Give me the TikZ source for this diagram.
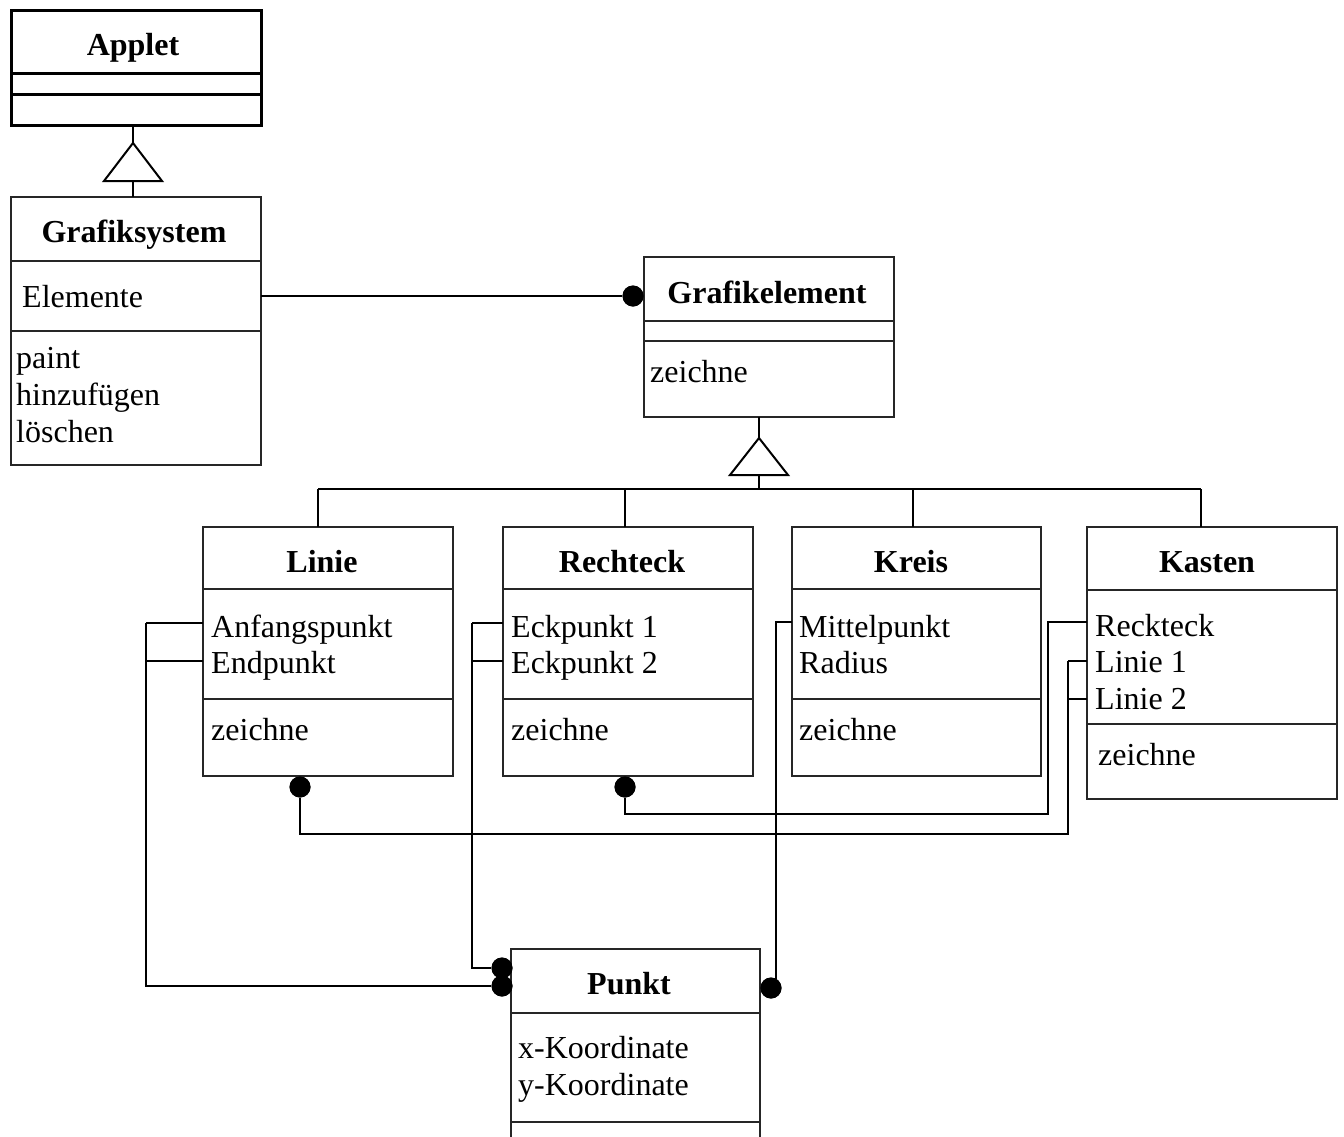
\documentclass[tikz,border=0pt]{standalone}
\usepackage{fontspec}
\setmainfont{Liberation Serif}
\begin{document}
\begin{tikzpicture}[x=1pt,y=-1pt,
  box/.style={draw=black!85, line width=1.3pt, anchor=north west, inner sep=0pt, outer sep=0pt},
  div/.style={draw=black!85, line width=1.3pt},
  txt/.style={font=\fontsize{32}{37}\selectfont, inner sep=0pt, anchor=base west},
  ttl/.style={font=\fontsize{32}{37}\selectfont\bfseries, inner sep=0pt, anchor=base},
  conn/.style={line width=2pt, black},
  dotn/.style={circle, fill=black, inner sep=0pt, minimum size=21pt},
  tri/.style={line width=2pt, fill=white, line join=miter}]
\useasboundingbox (0,0) rectangle (1344,1136);

% ---------- boxes ----------
\node[box, draw=black, line width=3pt, minimum width=250pt, minimum height=115pt] (applet) at (11,10) {};
\node[box, minimum width=250pt, minimum height=268pt] (grafiksystem) at (11,197) {};
\node[box, minimum width=250pt, minimum height=160pt] (grafikelement) at (644,257) {};
\node[box, minimum width=250pt, minimum height=249pt] (linie) at (203,527) {};
\node[box, minimum width=250pt, minimum height=249pt] (rechteck) at (503,527) {};
\node[box, minimum width=249pt, minimum height=249pt] (kreis) at (792,527) {};
\node[box, minimum width=250pt, minimum height=272pt] (kasten) at (1087,527) {};
\node[box, minimum width=249pt, minimum height=220pt] (punkt) at (511,949) {};

% ---------- dividers ----------
\draw[black, line width=3pt] (applet.west |- 0,73) -- (applet.east |- 0,73);
\draw[black, line width=3pt] (applet.west |- 0,94) -- (applet.east |- 0,94);
\draw[div] (grafiksystem.west |- 0,261) -- (grafiksystem.east |- 0,261);
\draw[div] (grafiksystem.west |- 0,331) -- (grafiksystem.east |- 0,331);
\draw[div] (grafikelement.west |- 0,321) -- (grafikelement.east |- 0,321);
\draw[div] (grafikelement.west |- 0,341) -- (grafikelement.east |- 0,341);
\draw[div] (linie.west |- 0,589) -- (linie.east |- 0,589);
\draw[div] (linie.west |- 0,699) -- (linie.east |- 0,699);
\draw[div] (rechteck.west |- 0,589) -- (rechteck.east |- 0,589);
\draw[div] (rechteck.west |- 0,699) -- (rechteck.east |- 0,699);
\draw[div] (kreis.west |- 0,589) -- (kreis.east |- 0,589);
\draw[div] (kreis.west |- 0,699) -- (kreis.east |- 0,699);
\draw[div] (kasten.west |- 0,590) -- (kasten.east |- 0,590);
\draw[div] (kasten.west |- 0,724) -- (kasten.east |- 0,724);
\draw[div] (punkt.west |- 0,1013) -- (punkt.east |- 0,1013);
\draw[div] (punkt.west |- 0,1122) -- (punkt.east |- 0,1122);

% ---------- texts ----------
\node[ttl] (tApplet) at (133,55) {Applet};
\node[ttl] (tGS) at (134,242) {Grafiksystem};
\node[txt] (aElemente) at (22,307) {Elemente};
\node[txt] (mPaint) at (16,368) {paint};
\node[txt] (mHinzu) at (16,405) {hinzufügen};
\node[txt] (mLoesch) at (16,442) {löschen};

\node[ttl] (tGE) at (767,303) {Grafikelement};
\node[txt] (mGE) at (650,382) {zeichne};

\node[ttl] (tLinie) at (322,572) {Linie};
\node[txt] (aAnf) at (211,637) {Anfangspunkt};
\node[txt] (aEnd) at (211,673) {Endpunkt};
\node[txt] (mLinie) at (211,740) {zeichne};

\node[ttl] (tRecht) at (622,572) {Rechteck};
\node[txt] (aEck1) at (511,637) {Eckpunkt 1};
\node[txt] (aEck2) at (511,673) {Eckpunkt 2};
\node[txt] (mRecht) at (511,740) {zeichne};

\node[ttl] (tKreis) at (911,572) {Kreis};
\node[txt] (aMitte) at (799,637) {Mittelpunkt};
\node[txt] (aRadius) at (799,673) {Radius};
\node[txt] (mKreis) at (799,740) {zeichne};

\node[ttl] (tKasten) at (1207,572) {Kasten};
\node[txt] (aReck) at (1095,636) {Reckteck};
\node[txt] (aLin1) at (1095,672) {Linie 1};
\node[txt] (aLin2) at (1095,709) {Linie 2};
\node[txt] (mKasten) at (1098,765) {zeichne};

\node[ttl] (tPunkt) at (629,994) {Punkt};
\node[txt] (aX) at (518,1058) {x-Koordinate};
\node[txt] (aY) at (518,1095) {y-Koordinate};

% ---------- generalization: Applet <- Grafiksystem ----------
\coordinate (t1apex) at (133,143);
\coordinate (t1base) at (133,181);
\draw[conn] (t1apex |- applet.south) -- (t1apex);
\draw[conn] (t1base) -- (t1base |- grafiksystem.north);
\draw[tri] (t1apex) -- (162,181) -- (104,181) -- cycle;

% ---------- generalization: Grafikelement <- subclasses ----------
\coordinate (t2apex) at (759,438);
\coordinate (t2base) at (759,475);
\coordinate (hbus) at (759,489);
\coordinate (bL) at (318,489);
\coordinate (bR) at (625,489);
\coordinate (bK) at (913,489);
\coordinate (bKa) at (1201,489);
\draw[conn] (t2apex |- grafikelement.south) -- (t2apex);
\draw[conn] (t2base) -- (hbus);
\draw[conn] (bL) -- (bKa);
\draw[conn] (bL) -- (bL |- linie.north);
\draw[conn] (bR) -- (bR |- rechteck.north);
\draw[conn] (bK) -- (bK |- kreis.north);
\draw[conn] (bKa) -- (bKa |- kasten.north);
\draw[tri] (t2apex) -- (788,475) -- (730,475) -- cycle;

% ---------- association dots ----------
\node[dotn] (dGE) at (633,296) {};
\node[dotn] (dL) at (300,787) {};
\node[dotn] (dR) at (625,787) {};
\node[dotn] (dP1) at (502,968) {};
\node[dotn] (dP2) at (502,986) {};
\node[dotn] (dP3) at (771,988) {};

% ---------- associations ----------
\draw[conn] (grafiksystem.east |- dGE) -- (dGE);

% Linie -> Punkt
\coordinate (lA) at (146,623);
\coordinate (lB) at (146,661);
\coordinate (lC) at (146,986);
\draw[conn] (linie.west |- lA) -- (lA);
\draw[conn] (linie.west |- lB) -- (lB);
\draw[conn] (lA) -- (lC) -- (dP2);

% Rechteck -> Punkt
\coordinate (rA) at (472,623);
\coordinate (rB) at (472,661);
\coordinate (rC) at (472,968);
\draw[conn] (rechteck.west |- rA) -- (rA);
\draw[conn] (rechteck.west |- rB) -- (rB);
\draw[conn] (rA) -- (rC) -- (dP1);

% Kreis -> Punkt
\coordinate (kA) at (776,622);
\coordinate (kB) at (776,979);
\draw[conn] (kreis.west |- kA) -- (kA) -- (kB);

% Kasten -> Rechteck
\coordinate (ksA) at (1048,622);
\coordinate (ksB) at (1048,814);
\coordinate (ksC) at (625,814);
\draw[conn] (kasten.west |- ksA) -- (ksA) -- (ksB) -- (ksC) -- (dR);

% Kasten -> Linie
\coordinate (klA) at (1068,661);
\coordinate (klB) at (1068,699);
\coordinate (klC) at (1068,834);
\coordinate (klD) at (300,834);
\draw[conn] (kasten.west |- klA) -- (klA);
\draw[conn] (kasten.west |- klB) -- (klB);
\draw[conn] (klA) -- (klC) -- (klD) -- (dL);

% redraw dots on top
\fill (dGE) circle (10.5pt);
\fill (dL) circle (10.5pt);
\fill (dR) circle (10.5pt);
\fill (dP1) circle (10.5pt);
\fill (dP2) circle (10.5pt);
\fill (dP3) circle (10.5pt);
\end{tikzpicture}
\end{document}
